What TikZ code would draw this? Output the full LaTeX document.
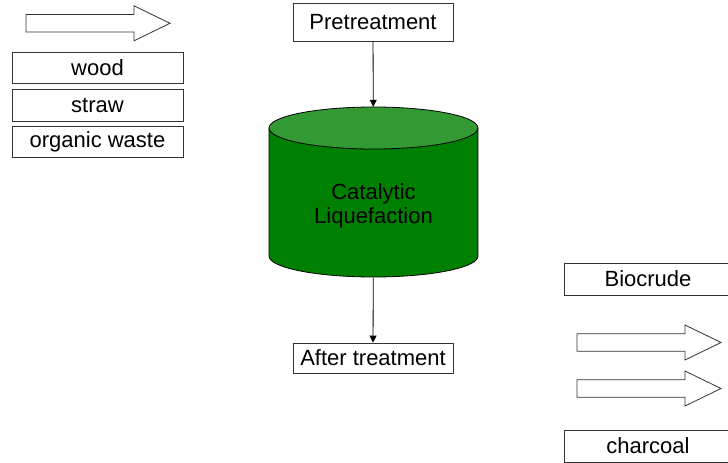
\documentclass[tikz,border=0pt]{standalone}
\usepackage{fontspec}
\setmainfont{Liberation Sans}
\usepackage{tikz}
\usetikzlibrary{arrows.meta}

\definecolor{reactorbody}{RGB}{0,128,0}
\definecolor{reactortop}{RGB}{51,153,51}

\begin{document}
\begin{tikzpicture}[
        x=1pt, y=-1pt, % Un punto por píxel, eje y hacia abajo
        font=\fontsize{22}{24}\selectfont, % Tamaño de la fuente para las etiquetas
        % --- Estilos personalizados para mayor claridad ---
        box/.style={draw=black!80, line width=0.8pt, fill=white, inner sep=0pt, minimum width=160pt},
        material/.style={box, minimum width=171pt, minimum height=31pt},
        stage/.style={box, minimum height=38pt},
        product/.style={box, minimum width=168pt, minimum height=32pt},
        blockarrow/.style={draw=black!80, line width=0.8pt, fill=white},
        flow/.style={-{Triangle[length=7pt, width=7pt]}, line width=0.8pt},
    ]
        \useasboundingbox (0,0) rectangle (728,463);

        % --- 1. Materias primas a la izquierda ---
        \node[material] (wood) at (97.5,67.5) {wood};
        \node[material, minimum height=32pt] (straw) at (97.5,105) {straw};
        \node[material] (waste) at (97.5,141.5) {organic waste};

        % --- 2. Flechas gruesas (entrada y salidas) ---
        \foreach \x/\y in {26/23.3, 577/342.5, 577/388.5} {
            \draw[blockarrow] (\x,\y-8.75) -- ++(108,0) -- ++(0,-8.75) -- (\x+144,\y)
                -- (\x+108,\y+17.5) -- ++(0,-8.75) -- (\x,\y+8.75) -- cycle;
        }

        % --- 3. El reactor (cilindro verde) ---
        \fill[reactorbody] (269,128) rectangle (478,256);
        \fill[reactorbody] (373.5,256) ellipse[x radius=104.5, y radius=21];
        \draw[line width=0.8pt] (269,128) -- (269,256) arc[start angle=180, end angle=0, x radius=104.5, y radius=21] -- (478,128);
        \filldraw[fill=reactortop, line width=0.8pt] (373.5,128) ellipse[x radius=104.5, y radius=21];
        \node[minimum width=209pt, minimum height=171pt, inner sep=0pt] (reactor) at (373.5,192.5) {};
        \node[align=center] (reactorlabel) at (373.5,206) {Catalytic\\Liquefaction};

        % --- 4. Etapas antes y después ---
        \node[stage] (pre) at (373,22) {Pretreatment};
        \node[stage, minimum height=30pt] (post) at (373,358) {After treatment};
        \draw[flow] (pre) -- (reactor);
        \draw[flow] (reactor) -- (post);

        % --- 5. Productos a la derecha ---
        \node[product] (biocrude) at (648,279) {Biocrude};
        \node[product] (charcoal) at (648,446) {charcoal};

    \end{tikzpicture}
\end{document}
